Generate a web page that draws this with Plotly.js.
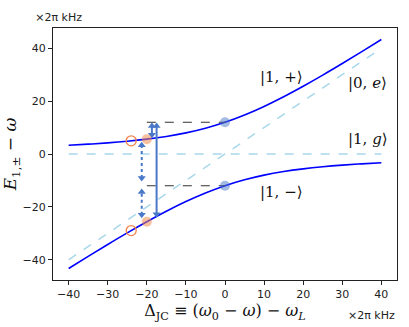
<!DOCTYPE html>
<html>
<head>
<meta charset="utf-8">
<script src="https://cdn.plot.ly/plotly-3.0.1.min.js"></script>
<style>
  html, body { margin: 0; padding: 0; background: #fff; }
  #chart { width: 409px; height: 327px; }
</style>
</head>
<body>
<div id="chart"></div>
<script>
// detuning samples (x2pi kHz) and dressed-state energies
const detuning = [-40, -35, -30, -25, -20, -15, -10, -5, 0, 5, 10, 15, 20, 25, 30, 35, 40];
const upperBranch = [3.32, 3.72, 4.21, 4.83, 5.62, 6.65, 8.0, 9.76, 12.0, 14.76, 18.0, 21.65, 25.62, 29.83, 34.21, 38.72, 43.32];
const lowerBranch = [-43.32, -38.72, -34.21, -29.83, -25.62, -21.65, -18.0, -14.76, -12.0, -9.76, -8.0, -6.65, -5.62, -4.83, -4.21, -3.72, -3.32];

// bare states
const bareX = [-40, 40];
const bareExcited = [-40, 40];   // |0,e>
const bareGround = [0, 0];       // |1,g>

// markers
const openX = [-24, -24];
const openY = [4.97, -28.97];
const peachX = [-20, -20];
const peachY = [5.62, -25.62];
const dotX = [0, 0];
const dotY = [12, -12];

// dashed guides at the resonant energies
const guideX = [-20, 0];
const guideLevels = [12, -12];

// solid arrows: x, bottom, top
const solidArrowX = [-17.5, -18.7];
const solidArrowLow = [-24.2, 5.9];
const solidArrowHigh = [12, 12];

// dotted arrows
const dottedArrowX = [-21.3, -21.3];
const dottedArrowLow = [-10.5, -24.4];
const dottedArrowHigh = [4.7, -13];

const stateLabels = ["|1, +⟩", "|0, <i>e</i>⟩", "|1, <i>g</i>⟩", "|1, −⟩"];
const stateLabelX = [14.5, 36.5, 36.5, 14.5];
const stateLabelY = [29.3, 26.8, 5.6, -14.3];

const arrowColor = "#4a78c8";
const headHalf = 1.4;
const serif = "DejaVu Serif, serif";

const traces = [
  { x: bareX, y: bareExcited, mode: "lines", line: { color: "#a8d8ea", width: 1.5, dash: "dash" } },
  { x: bareX, y: bareGround, mode: "lines", line: { color: "#a8d8ea", width: 1.5, dash: "dash" } },
  { x: detuning, y: upperBranch, mode: "lines", line: { color: "#0000ff", width: 1.6, shape: "spline" } },
  { x: detuning, y: lowerBranch, mode: "lines", line: { color: "#0000ff", width: 1.6, shape: "spline" } }
];

guideLevels.forEach(level => {
  traces.push({ x: guideX, y: [level, level], mode: "lines", line: { color: "#333", width: 1.2, dash: "dash" } });
});

function addArrow(x, low, high, dash, width) {
  traces.push({ x: [x, x], y: [low + headHalf, high - headHalf], mode: "lines", line: { color: arrowColor, width: width, dash: dash } });
  traces.push({
    x: [x, x], y: [low + headHalf, high - headHalf], mode: "markers",
    marker: { symbol: ["triangle-down", "triangle-up"], size: 7, color: arrowColor }
  });
}
solidArrowX.forEach((x, i) => addArrow(x, solidArrowLow[i], solidArrowHigh[i], "solid", 2));
dottedArrowX.forEach((x, i) => addArrow(x, dottedArrowLow[i], dottedArrowHigh[i], "dot", 2));

traces.push({ x: openX, y: openY, mode: "markers", marker: { symbol: "circle-open", size: 10, color: "#f0844c", line: { width: 1.3 } } });
traces.push({ x: peachX, y: peachY, mode: "markers", marker: { symbol: "circle", size: 10, color: "rgba(240,140,80,0.55)" } });
traces.push({ x: dotX, y: dotY, mode: "markers", marker: { symbol: "circle", size: 10, color: "rgba(74,120,200,0.5)" } });

const annotations = stateLabels.map((t, i) => ({
  x: stateLabelX[i], y: stateLabelY[i], text: t, showarrow: false,
  font: { family: serif, size: 15, color: "#111" }
}));
annotations.push({
  xref: "paper", yref: "paper", x: 0.926, y: -0.139, xanchor: "center", yanchor: "middle",
  text: "×2π kHz", showarrow: false, font: { family: "DejaVu Sans", size: 11, color: "#222" }
});

const axisCommon = {
  showgrid: false, zeroline: false, showline: true, mirror: true,
  linecolor: "#222", linewidth: 1, ticks: "outside", ticklen: 4, tickwidth: 1, tickcolor: "#222",
  tickfont: { family: "DejaVu Sans", size: 11, color: "#222" }
};

const layout = {
  width: 409, height: 327,
  margin: { l: 53, r: 12, t: 28, b: 47 },
  showlegend: false,
  paper_bgcolor: "#fff", plot_bgcolor: "#fff",
  // unit label above the y axis
  title: {
    text: "×2π kHz", xref: "container", x: 0.086, xanchor: "left",
    yref: "container", y: 0.949, yanchor: "middle",
    font: { family: "DejaVu Sans", size: 11, color: "#222" }
  },
  xaxis: Object.assign({}, axisCommon, {
    range: [-44, 44], tickvals: [-40, -30, -20, -10, 0, 10, 20, 30, 40],
    title: { text: "Δ<sub>JC</sub> ≡ (<i>ω</i><sub>0</sub> − <i>ω</i>) − <i>ω<sub>L</sub></i>", standoff: 4,
      font: { family: serif, size: 16, color: "#111" } }
  }),
  yaxis: Object.assign({}, axisCommon, {
    range: [-47.65, 47.65], tickvals: [-40, -20, 0, 20, 40],
    title: { text: "<i>E</i><sub>1,±</sub> − <i>ω</i>", standoff: 6,
      font: { family: serif, size: 17, color: "#111" } }
  }),
  annotations: annotations
};

Plotly.newPlot("chart", traces, layout, { displayModeBar: false, staticPlot: true });
</script>
</body>
</html>
